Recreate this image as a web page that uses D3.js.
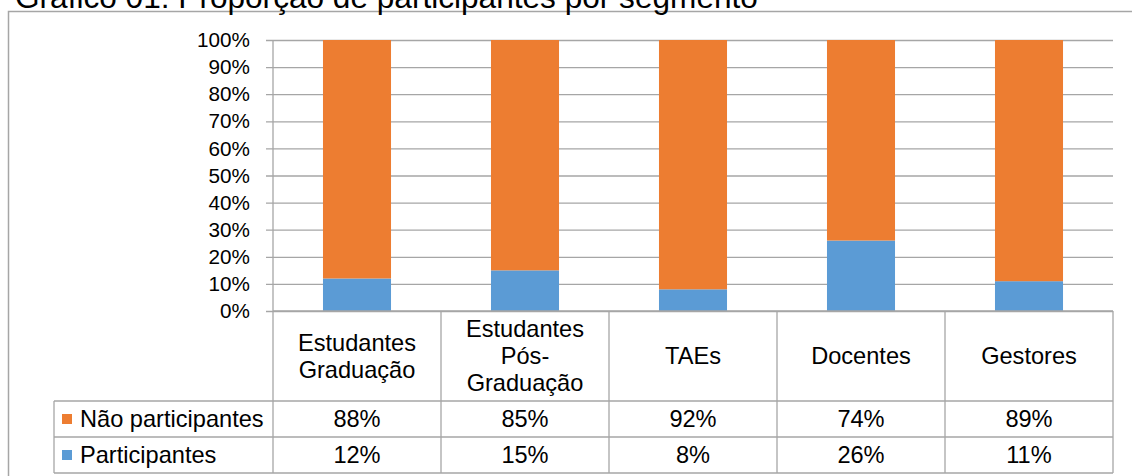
<!DOCTYPE html>
<html lang="pt">
<head>
<meta charset="utf-8">
<title>Gráfico 01: Proporção de participantes por segmento</title>
<script src="https://d3js.org/d3.v7.min.js"></script>
<style>
  body { margin: 0; background: #fff; }
  svg { display: block; font-family: "Liberation Sans", Arial, sans-serif; }
  .tick text { font-size: 20.7px; fill: #000; }
  .cell { font-size: 23.6px; fill: #000; }
  .title { font-size: 31.6px; fill: #000; }
</style>
</head>
<body>
<div id="vis"></div>
<script>
// categories and series
const categories = ["Estudantes Graduação", "Estudantes Pós-Graduação", "TAEs", "Docentes", "Gestores"];
const categoryLines = [["Estudantes", "Graduação"], ["Estudantes", "Pós-", "Graduação"], ["TAEs"], ["Docentes"], ["Gestores"]];
const seriesNames = ["Participantes", "Não participantes"];
const participantes = [12, 15, 8, 26, 11];
const naoParticipantes = [88, 85, 92, 74, 89];
const yTicks = [0, 10, 20, 30, 40, 50, 60, 70, 80, 90, 100];

const width = 1132, height = 476;
const colors = { "Participantes": "#5b9bd5", "Não participantes": "#ed7d31" };
const gridColor = "#a6a6a6";

const plotLeft = 273, plotRight = 1113, plotTop = 40, plotBottom = 311;
const tableLeft = 54, headerBottom = 401, rowH = 36;

const svg = d3.select("#vis").append("svg")
  .attr("width", width)
  .attr("height", height);

// outer frame (only top and left edges show in the crop)
svg.append("path")
  .attr("d", `M8.5,${height + 2} V11.5 H${width + 2}`)
  .attr("fill", "none")
  .attr("stroke", gridColor)
  .attr("stroke-width", 1.5);

svg.append("text")
  .attr("class", "title")
  .attr("x", 15)
  .attr("y", 8)
  .text("Gráfico 01: Proporção de participantes por segmento");

const x = d3.scaleBand()
  .domain(categories)
  .range([plotLeft, plotRight])
  .padding(0);

const y = d3.scaleLinear()
  .domain([0, 100])
  .range([plotBottom, plotTop]);

const barW = x.bandwidth() * 0.405;

// gridlines + tick labels
const leftAxis = d3.axisLeft(y)
  .tickValues(yTicks)
  .tickFormat(d => d + "%")
  .tickSize(-(plotRight - plotLeft))
  .tickPadding(23);

const gAxis = svg.append("g")
  .attr("transform", `translate(${plotLeft},0)`)
  .call(leftAxis);
gAxis.select(".domain").remove();
gAxis.selectAll(".tick line")
  .attr("x1", -7)
  .attr("stroke", gridColor)
  .attr("stroke-width", 1.3);

// stacked bars
const rows = categories.map((c, i) => ({
  cat: c,
  "Participantes": participantes[i],
  "Não participantes": naoParticipantes[i]
}));
const stacked = d3.stack().keys(seriesNames)(rows);

svg.append("g").selectAll("g")
  .data(stacked)
  .join("g")
  .attr("fill", s => colors[s.key])
  .selectAll("rect")
  .data(s => s)
  .join("rect")
  .attr("x", d => x(d.data.cat) + (x.bandwidth() - barW) / 2)
  .attr("y", d => y(d[1]))
  .attr("width", barW)
  .attr("height", d => y(d[0]) - y(d[1]));

// vertical axis line
svg.append("line")
  .attr("x1", plotLeft).attr("x2", plotLeft)
  .attr("y1", plotTop).attr("y2", plotBottom)
  .attr("stroke", gridColor).attr("stroke-width", 1.3);

// data table
const table = svg.append("g")
  .attr("stroke", gridColor)
  .attr("stroke-width", 1.3)
  .attr("fill", "none");

const tableBottom = headerBottom + 2 * rowH;
table.append("line").attr("x1", plotLeft).attr("x2", plotRight).attr("y1", plotBottom).attr("y2", plotBottom);
[headerBottom, headerBottom + rowH, tableBottom].forEach(yy => {
  table.append("line").attr("x1", tableLeft).attr("x2", plotRight).attr("y1", yy).attr("y2", yy);
});
table.append("line").attr("x1", tableLeft).attr("x2", tableLeft).attr("y1", headerBottom).attr("y2", tableBottom);
categories.forEach(c => {
  table.append("line").attr("x1", x(c)).attr("x2", x(c)).attr("y1", plotBottom).attr("y2", tableBottom);
});
table.append("line").attr("x1", plotRight).attr("x2", plotRight).attr("y1", plotBottom).attr("y2", tableBottom);

// header labels
const lineH = 27;
const headerMid = (plotBottom + headerBottom) / 2;
categories.forEach((c, i) => {
  const lines = categoryLines[i];
  const cx = x(c) + x.bandwidth() / 2;
  const t = svg.append("text")
    .attr("class", "cell")
    .attr("text-anchor", "middle")
    .attr("x", cx)
    .attr("y", headerMid - (lines.length - 1) * lineH / 2);
  lines.forEach((l, j) => {
    t.append("tspan")
      .attr("x", cx)
      .attr("dy", j === 0 ? "0.36em" : lineH)
      .text(l);
  });
});

// value rows (orange series first, as in the original)
const tableSeries = [
  { name: "Não participantes", values: naoParticipantes },
  { name: "Participantes", values: participantes }
];
tableSeries.forEach((s, r) => {
  const cy = headerBottom + rowH * r + rowH / 2;
  svg.append("rect")
    .attr("x", 62).attr("y", cy - 5)
    .attr("width", 10).attr("height", 10)
    .attr("fill", colors[s.name]);
  svg.append("text")
    .attr("class", "cell")
    .attr("x", 80).attr("y", cy)
    .attr("dy", "0.36em")
    .text(s.name);
  s.values.forEach((v, i) => {
    svg.append("text")
      .attr("class", "cell")
      .attr("text-anchor", "middle")
      .attr("x", x(categories[i]) + x.bandwidth() / 2)
      .attr("y", cy)
      .attr("dy", "0.36em")
      .text(v + "%");
  });
});
</script>
</body>
</html>
